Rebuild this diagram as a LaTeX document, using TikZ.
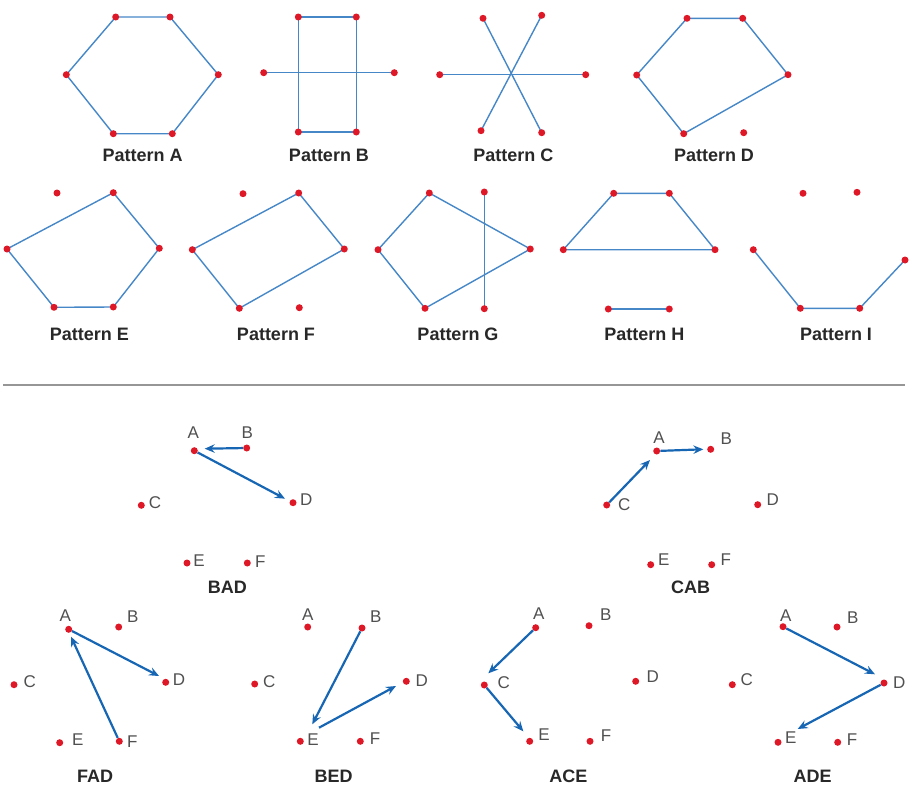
\documentclass[tikz,border=0pt]{standalone}
\usepackage{fontspec}
\setmainfont{Liberation Sans}
\usetikzlibrary{arrows.meta}
\definecolor{dotred}{RGB}{222,24,38}
\definecolor{lineblue}{RGB}{70,135,200}
\definecolor{arrblue}{RGB}{22,102,180}
\definecolor{lblgray}{RGB}{80,80,80}
\definecolor{titlegray}{RGB}{40,40,40}
\definecolor{sepgray}{RGB}{150,150,150}
\newcommand\pdot[4]{\node[dot] (#1) at (#2) {}; \node[lbl] (#1-l) at (#4) {#3};}
\begin{document}
\begin{tikzpicture}[x=1pt,y=-1pt,
  dot/.style={circle,fill=dotred,inner sep=0pt,minimum size=7pt},
  pline/.style={draw=lineblue,line width=1.4pt},
  arr/.style={draw=arrblue,line width=2.2pt,-{Stealth[length=10pt,width=8.5pt,inset=3.5pt]}},
  lbl/.style={text=lblgray,inner sep=0pt,font=\fontsize{17}{19}\selectfont},
  ttl/.style={text=titlegray,inner sep=0pt,font=\fontsize{18}{20}\selectfont\bfseries}]
\useasboundingbox (0,0) rectangle (921,787);
% ---------- Pattern A
\coordinate (pa1) at (115.7,17); \coordinate (pa2) at (170,17);
\coordinate (pa3) at (218.3,74.7); \coordinate (pa4) at (172.3,133.7);
\coordinate (pa5) at (113.3,133.7); \coordinate (pa6) at (66.3,74.7);
\draw[pline] (pa1) -- (pa2) -- (pa3) -- (pa4) -- (pa5) -- (pa6) -- cycle;
\foreach \p in {pa1,pa2,pa3,pa4,pa5,pa6} \node[dot] at (\p) {};
\node[ttl] (ta) at (142.7,155.3) {Pattern A};
% ---------- Pattern B
\coordinate (pb1) at (298.3,17); \coordinate (pb2) at (356.3,17);
\coordinate (pb3) at (356.3,132); \coordinate (pb4) at (298.3,132);
\coordinate (pb5) at (263.7,72.7); \coordinate (pb6) at (394.3,72.7);
\draw[pline] (pb1) -- (pb2) -- (pb3) -- (pb4) -- cycle;
\draw[pline] (pb5) -- (pb6);
\foreach \p in {pb1,pb2,pb3,pb4,pb5,pb6} \node[dot] at (\p) {};
\node[ttl] (tb) at (329,155.3) {Pattern B};
% ---------- Pattern C
\coordinate (pc1) at (483,18.3); \coordinate (pc2) at (541.7,15.3);
\coordinate (pc3) at (439.7,74.7); \coordinate (pc4) at (585.7,74.7);
\coordinate (pc5) at (481,130.7); \coordinate (pc6) at (541.7,132.7);
\draw[pline] (pc1) -- (pc6);
\draw[pline] (pc2) -- (pc5);
\draw[pline] (pc3) -- (pc4);
\foreach \p in {pc1,pc2,pc3,pc4,pc5,pc6} \node[dot] at (\p) {};
\node[ttl] (tc) at (513.3,155.3) {Pattern C};
% ---------- Pattern D
\coordinate (pd1) at (687,18.3); \coordinate (pd2) at (742.7,18.3);
\coordinate (pd3) at (788,74.7); \coordinate (pd4) at (683.7,133.7);
\coordinate (pd5) at (636.7,75); \coordinate (pd6) at (743.7,132.7);
\draw[pline] (pd1) -- (pd2) -- (pd3) -- (pd4) -- (pd5) -- cycle;
\foreach \p in {pd1,pd2,pd3,pd4,pd5,pd6} \node[dot] at (\p) {};
\node[ttl] (td) at (714,155.3) {Pattern D};
% ---------- Pattern E
\coordinate (pe1) at (57,193); \coordinate (pe2) at (113.3,192.7);
\coordinate (pe3) at (159.3,248.3); \coordinate (pe4) at (113.3,307);
\coordinate (pe5) at (54,307.3); \coordinate (pe6) at (7,249);
\draw[pline] (pe2) -- (pe3) -- (pe4) -- (pe5) -- (pe6) -- cycle;
\foreach \p in {pe1,pe2,pe3,pe4,pe5,pe6} \node[dot] at (\p) {};
\node[ttl] (te) at (89.3,334.5) {Pattern E};
% ---------- Pattern F
\coordinate (pf1) at (243,193.7); \coordinate (pf2) at (298.7,193);
\coordinate (pf3) at (344.3,249); \coordinate (pf4) at (239.3,308.3);
\coordinate (pf5) at (192.3,249.7); \coordinate (pf6) at (299.3,307.7);
\draw[pline] (pf2) -- (pf3) -- (pf4) -- (pf5) -- cycle;
\foreach \p in {pf1,pf2,pf3,pf4,pf5,pf6} \node[dot] at (\p) {};
\node[ttl] (tf) at (276,334.5) {Pattern F};
% ---------- Pattern G
\coordinate (pg1) at (429.3,193); \coordinate (pg2) at (484.3,192);
\coordinate (pg3) at (530.3,249); \coordinate (pg4) at (484.3,308.7);
\coordinate (pg5) at (425,308.3); \coordinate (pg6) at (378,249.7);
\draw[pline] (pg1) -- (pg3) -- (pg5) -- (pg6) -- cycle;
\draw[pline] (pg2) -- (pg4);
\foreach \p in {pg1,pg2,pg3,pg4,pg5,pg6} \node[dot] at (\p) {};
\node[ttl] (tg) at (458,334.5) {Pattern G};
% ---------- Pattern H
\coordinate (ph1) at (613.7,193.3); \coordinate (ph2) at (669.3,193.3);
\coordinate (ph3) at (715,249.7); \coordinate (ph4) at (563.3,249.7);
\coordinate (ph5) at (608.3,309); \coordinate (ph6) at (669.3,309);
\draw[pline] (ph1) -- (ph2) -- (ph3) -- (ph4) -- cycle;
\draw[pline] (ph5) -- (ph6);
\foreach \p in {ph1,ph2,ph3,ph4,ph5,ph6} \node[dot] at (\p) {};
\node[ttl] (th) at (644.3,334.5) {Pattern H};
% ---------- Pattern I
\coordinate (pi1) at (803,193.3); \coordinate (pi2) at (857,192.3);
\coordinate (pi3) at (905,260); \coordinate (pi4) at (859.7,308.3);
\coordinate (pi5) at (800.3,308.3); \coordinate (pi6) at (753.3,249.7);
\draw[pline] (pi6) -- (pi5) -- (pi4) -- (pi3);
\foreach \p in {pi1,pi2,pi3,pi4,pi5,pi6} \node[dot] at (\p) {};
\node[ttl] (ti) at (836,334.5) {Pattern I};
% ---------- separator
\coordinate (sepL) at (3,384.7); \coordinate (sepR) at (905,384.7);
\draw[sepgray,line width=1.6pt] (sepL) -- (sepR);
% ---------- BAD
\coordinate (bad-e1) at (204.7,448.7); \coordinate (bad-e2) at (285,498.7);
\pdot{bad-A}{194.3,450.7}{A}{193.3,432.3}
\pdot{bad-B}{246.7,448}{B}{247.3,432.7}
\pdot{bad-C}{141.3,505.3}{C}{155,503}
\pdot{bad-D}{293,502.7}{D}{306.3,500}
\pdot{bad-E}{187,563}{E}{199,560.7}
\pdot{bad-F}{247.3,563}{F}{260.3,562}
\draw[arr] (bad-B) -- (bad-e1);
\draw[arr] (bad-A) -- (bad-e2);
\node[ttl] (bad-t) at (227.3,587.7) {BAD};
% ---------- CAB
\coordinate (cab-e1) at (650,460); \coordinate (cab-e2) at (703.3,449.3);
\pdot{cab-A}{656.7,451}{A}{659,437.5}
\pdot{cab-B}{710.7,449.3}{B}{726.3,439}
\pdot{cab-C}{606.7,505}{C}{624.3,504.3}
\pdot{cab-D}{757.7,504.7}{D}{772.7,499.3}
\pdot{cab-E}{650.7,564.7}{E}{663.7,560}
\pdot{cab-F}{711.7,564.7}{F}{725.7,560}
\draw[arr] (cab-C) -- (cab-e1);
\draw[arr] (cab-A) -- (cab-e2);
\node[ttl] (cab-t) at (690.7,587.7) {CAB};
% ---------- FAD
\coordinate (fad-e1) at (71,636.7); \coordinate (fad-e2) at (159,676);
\pdot{fad-A}{68.7,629.3}{A}{65.3,615.3}
\pdot{fad-B}{118.7,627}{B}{132.7,617}
\pdot{fad-C}{14,684.7}{C}{29.7,682}
\pdot{fad-D}{165.7,682.3}{D}{179,680}
\pdot{fad-E}{59.7,742.7}{E}{77.7,740}
\pdot{fad-F}{119.3,741.3}{F}{132.3,741.3}
\draw[arr] (fad-F) -- (fad-e1);
\draw[arr] (fad-A) -- (fad-e2);
\node[ttl] (fad-t) at (95,776.7) {FAD};
% ---------- BED
\coordinate (bed-e1) at (312.3,724.3); \coordinate (bed-s2) at (319,727.7);
\coordinate (bed-e2) at (396,686);
\pdot{bed-A}{307.7,627}{A}{307.7,614.3}
\pdot{bed-B}{362,628}{B}{375.7,616.3}
\pdot{bed-C}{254.7,684}{C}{269.3,681.3}
\pdot{bed-D}{406.3,681.3}{D}{421.7,680.7}
\pdot{bed-E}{300.3,741.3}{E}{313,739.3}
\pdot{bed-F}{360.3,741.3}{F}{375,738.7}
\draw[arr] (bed-B) -- (bed-e1);
\draw[arr] (bed-s2) -- (bed-e2);
\node[ttl] (bed-t) at (333.7,776.7) {BED};
% ---------- ACE
\coordinate (ace-e1) at (488.3,673.3); \coordinate (ace-e2) at (523.3,731.3);
\pdot{ace-A}{535.7,627.7}{A}{538.7,614}
\pdot{ace-B}{589,625.7}{B}{605.7,615}
\pdot{ace-C}{484.3,685}{C}{503.7,682.3}
\pdot{ace-D}{635.7,681.3}{D}{652.7,677}
\pdot{ace-E}{529.7,741.3}{E}{544,734.7}
\pdot{ace-F}{590,741.3}{F}{606,735.3}
\draw[arr] (ace-A) -- (ace-e1);
\draw[arr] (ace-C) -- (ace-e2);
\node[ttl] (ace-t) at (568.3,776.7) {ACE};
% ---------- ADE
\coordinate (ade-e1) at (875,674.3); \coordinate (ade-e2) at (797.7,729);
\pdot{ade-A}{783,626.7}{A}{785.7,616}
\pdot{ade-B}{837,627}{B}{852.7,617.3}
\pdot{ade-C}{732.3,684.7}{C}{746.7,679.3}
\pdot{ade-D}{884,683}{D}{899.3,682.3}
\pdot{ade-E}{778,742.3}{E}{790.7,738}
\pdot{ade-F}{837.7,742.3}{F}{852,739.7}
\draw[arr] (ade-A) -- (ade-e1);
\draw[arr] (ade-D) -- (ade-e2);
\node[ttl] (ade-t) at (812.7,776.7) {ADE};
\end{tikzpicture}
\end{document}
